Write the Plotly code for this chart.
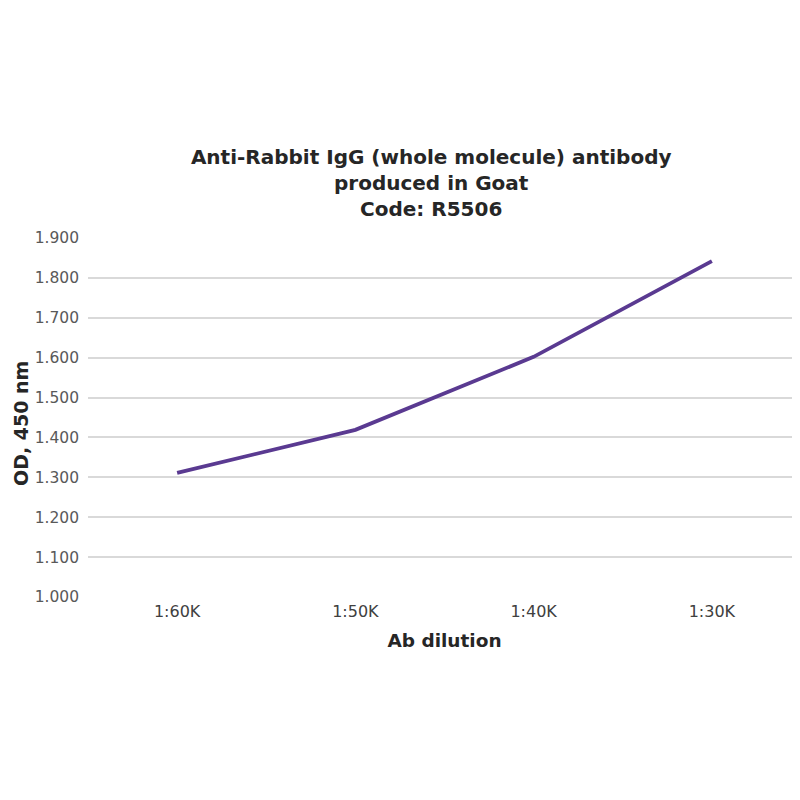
import plotly.graph_objects as go

# ELISA titration: OD vs antibody dilution
dilutions = ["1:60K", "1:50K", "1:40K", "1:30K"]
od_450 = [1.311, 1.419, 1.602, 1.842]
y_ticks = [1.0, 1.1, 1.2, 1.3, 1.4, 1.5, 1.6, 1.7, 1.8, 1.9]

FONT = "DejaVu Sans"
LINE_COLOR = "#5a3a91"

fig = go.Figure(go.Scatter(
    x=dilutions,
    y=od_450,
    mode="lines",
    line=dict(color=LINE_COLOR, width=3.8),
    showlegend=False,
))

fig.update_layout(
    width=800,
    height=800,
    paper_bgcolor="white",
    plot_bgcolor="white",
    margin=dict(l=80, r=7, t=230, b=211, autoexpand=False),
    title=dict(
        text="<b>Anti-Rabbit IgG (whole molecule) antibody<br>produced in Goat<br>Code: R5506</b>",
        x=0.529,
        xanchor="center",
        y=0.805,
        yanchor="middle",
        font=dict(family=FONT, size=20, color="#262626"),
    ),
    font=dict(family=FONT, color="#404040"),
)

# y-axis title placed by hand so it sits close to the page edge like the original
fig.add_annotation(
    text="<b>OD, 450 nm</b>",
    xref="paper", yref="paper",
    x=-0.1122, y=0.482,
    xanchor="left", yanchor="middle",
    textangle=-90,
    showarrow=False,
    font=dict(family=FONT, size=19, color="#262626"),
)

fig.update_xaxes(
    range=[-0.5, 3.5],
    showgrid=False,
    showline=False,
    ticks="",
    ticklabelstandoff=3,
    tickfont=dict(family=FONT, size=16, color="#404040"),
    title=dict(text="<b>Ab dilution</b>", standoff=14,
               font=dict(family=FONT, size=18.5, color="#262626")),
)

fig.update_yaxes(
    range=[1.0, 1.9],
    tickvals=y_ticks,
    tickformat=".3f",
    showgrid=True,
    gridcolor="#d9d9d9",
    gridwidth=1.5,
    zeroline=False,
    showline=False,
    ticks="",
    ticklabelstandoff=8,
    tickfont=dict(family=FONT, size=15.5, color="#595959"),
)

fig.write_html("out.html")
